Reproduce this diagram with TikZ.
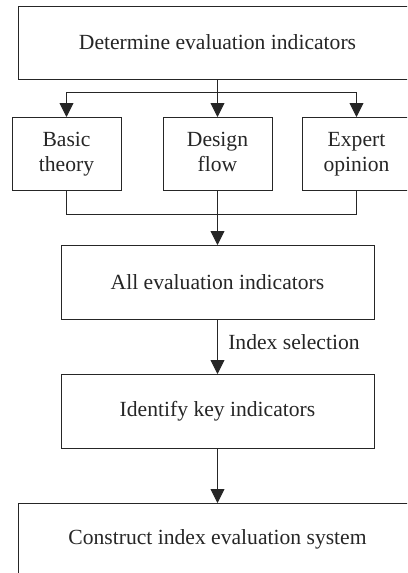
\documentclass[tikz,border=0pt]{standalone}
\usepackage{fontspec}
\setmainfont{Liberation Serif}
\usetikzlibrary{arrows.meta,calc}
\definecolor{ink}{HTML}{262626}
\newcommand{\labelfont}{\fontsize{21.6}{25}\selectfont}
\tikzset{
  box/.style={draw=ink, line width=0.9pt, fill=white, inner sep=0pt, outer sep=0pt,
    align=center, font=\labelfont, text=ink},
  wide/.style={box, minimum width=399pt, minimum height=73pt},
  mid/.style={box, minimum width=313pt, minimum height=74pt},
  small/.style={box, minimum width=109pt, minimum height=73pt},
  link/.style={draw=ink, line width=0.9pt},
  flow/.style={link, -{Triangle[length=14pt,width=14pt]}}
}
\begin{document}
\begin{tikzpicture}[x=1pt,y=-1pt]
  \useasboundingbox (0,0) rectangle (407,573);
  \clip (0,0) rectangle (407,573);
  \fill[white] (0,0) rectangle (407,573);

  % boxes
  \node[wide]  (top) at (217.5,42.5)  {Determine evaluation indicators};
  \node[small] (b1)  at (66.5,153.5)  {\strut Basic\\\strut theory};
  \node[small] (b2)  at (217.5,153.5) {\strut Design\\\strut flow};
  \node[small] (b3)  at (356.5,153.5) {\strut Expert\\\strut opinion};
  \node[mid]   (all) at (217.5,282)   {All evaluation indicators};
  \node[mid]   (key) at (217.5,411)   {Identify key indicators};
  \node[wide]  (sys) at (217.5,539.5) {Construct index evaluation system};

  % split line and merge line levels
  \coordinate (split) at (217.5,92);
  \coordinate (merge) at (217.5,214);

  % fan out
  \draw[link] (top.south) -- (split);
  \draw[link] (b1.north |- split) -- (b3.north |- split);
  \draw[flow] (b1.north |- split) -- (b1.north);
  \draw[flow] (split) -- (b2.north);
  \draw[flow] (b3.north |- split) -- (b3.north);

  % merge
  \draw[link] (b1.south) -- (b1.south |- merge) -- (b3.south |- merge) -- (b3.south);
  \draw[flow] (b2.south) -- (all.north);

  % selection and construction
  \draw[flow] (all.south) -- node[right=7pt, pos=0.42, font=\labelfont, text=ink] {Index selection} (key.north);
  \draw[flow] (key.south) -- (sys.north);
\end{tikzpicture}
\end{document}
